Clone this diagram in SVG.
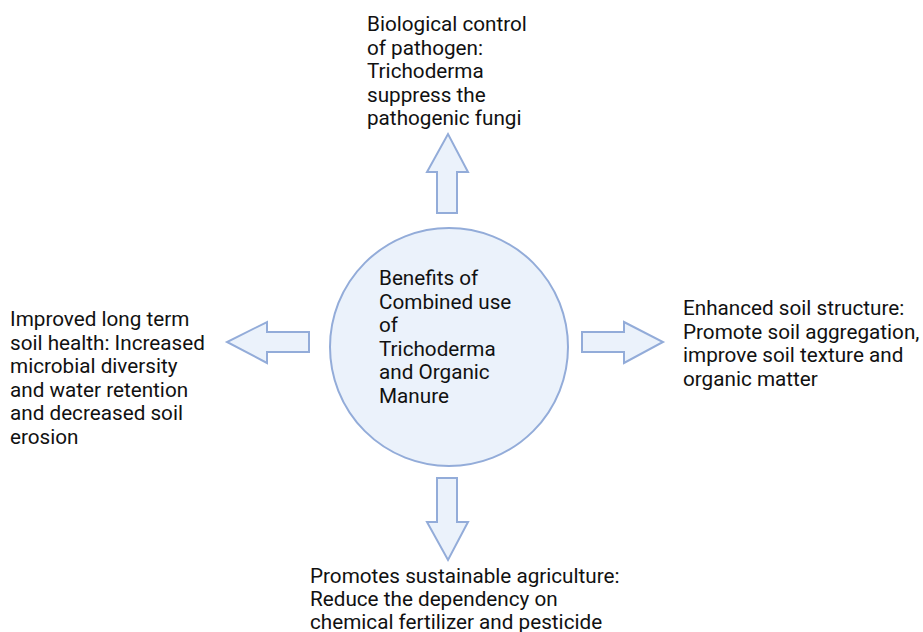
<svg xmlns="http://www.w3.org/2000/svg" width="923" height="632" viewBox="0 0 923 632">
  <style>
    .shape { fill: #ebf2fb; stroke: #93acd9; stroke-width: 2; stroke-linejoin: miter; }
    .label { font-family: Roboto, "Liberation Sans", sans-serif; font-size: 20.7px; fill: #111111; }
  </style>
  <rect width="923" height="632" fill="#ffffff"/>

  <g id="connectors">
    <!-- up -->
    <polygon class="shape" points="437,213 437,172 427,172 448,134 468,172 457,172 457,213"/>
    <!-- down -->
    <polygon class="shape" points="437,478 457,478 457,522 468,522 448,560 427,522 437,522"/>
    <!-- left -->
    <polygon class="shape" points="309,332 267,332 267,322 227,342 267,363 267,352 309,352"/>
    <!-- right -->
    <polygon class="shape" points="582,332 624,332 624,322 663,342 624,363 624,352 582,352"/>
  </g>

  <g id="center">
    <circle class="shape" cx="449" cy="347" r="119"/>
    <text class="label">
      <tspan x="379" y="285">Benefits of</tspan>
      <tspan x="379" y="308.6">Combined use</tspan>
      <tspan x="379" y="332.2">of</tspan>
      <tspan x="379" y="355.8">Trichoderma</tspan>
      <tspan x="379" y="379.4">and Organic</tspan>
      <tspan x="379" y="403">Manure</tspan>
    </text>
  </g>

  <g id="top-benefit">
    <text class="label">
      <tspan x="367" y="31">Biological control</tspan>
      <tspan x="367" y="54.6">of pathogen:</tspan>
      <tspan x="367" y="78.2">Trichoderma</tspan>
      <tspan x="367" y="101.8">suppress the</tspan>
      <tspan x="367" y="125.4">pathogenic fungi</tspan>
    </text>
  </g>

  <g id="left-benefit">
    <text class="label">
      <tspan x="10" y="326">Improved long term</tspan>
      <tspan x="10" y="349.6">soil health: Increased</tspan>
      <tspan x="10" y="373.2">microbial diversity</tspan>
      <tspan x="10" y="396.8">and water retention</tspan>
      <tspan x="10" y="420.4">and decreased soil</tspan>
      <tspan x="10" y="444">erosion</tspan>
    </text>
  </g>

  <g id="right-benefit">
    <text class="label">
      <tspan x="683" y="315">Enhanced soil structure:</tspan>
      <tspan x="683" y="338.5">Promote soil aggregation,</tspan>
      <tspan x="683" y="362">improve soil texture and</tspan>
      <tspan x="683" y="385.5">organic matter</tspan>
    </text>
  </g>

  <g id="bottom-benefit">
    <text class="label">
      <tspan x="310" y="583">Promotes sustainable agriculture:</tspan>
      <tspan x="310" y="606">Reduce the dependency on</tspan>
      <tspan x="310" y="628.5">chemical fertilizer and pesticide</tspan>
    </text>
  </g>
</svg>
